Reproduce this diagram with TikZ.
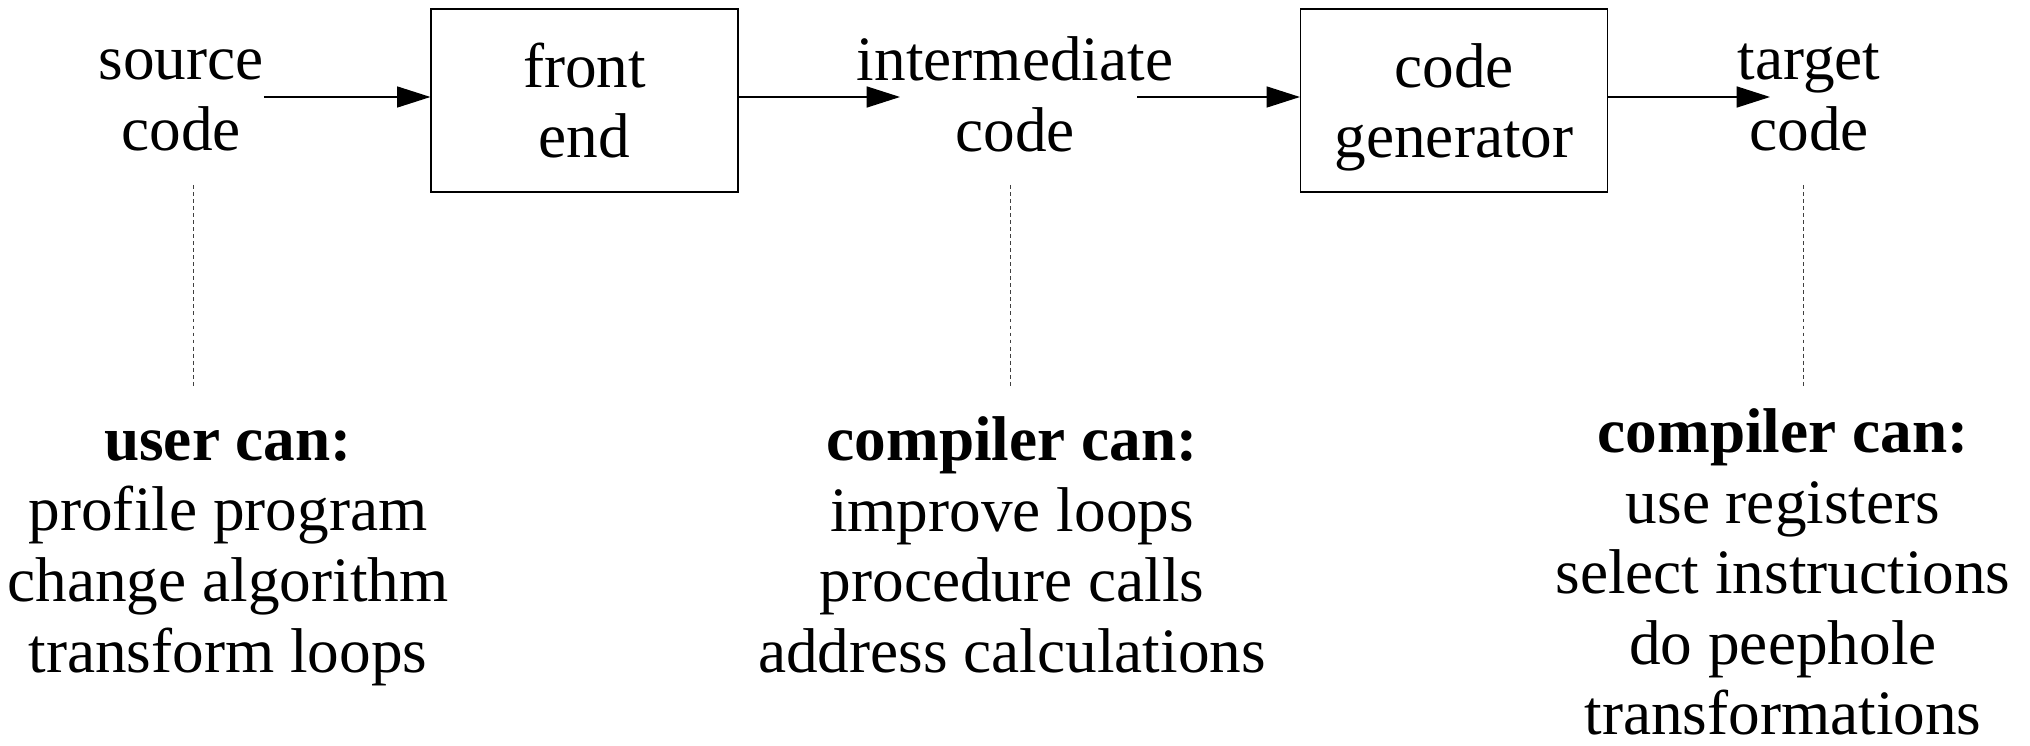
\documentclass[tikz,border=0pt]{standalone}
\usepackage{fontspec}
\setmainfont{Liberation Serif}
\usetikzlibrary{arrows.meta}

\begin{document}
\begin{tikzpicture}[x=0.02cm,y=-0.02cm,
        every node/.style={font=\fontsize{36}{40.2}\selectfont, align=center, inner sep=0pt},
        stagebox/.style={draw, line width=0.7pt, minimum width=6.14cm, minimum height=3.66cm},
        flow/.style={line width=0.7pt, -{Triangle[length=19pt,width=12pt]}},
        guide/.style={line width=0.4pt, black!75, dash pattern=on 2.2pt off 1.8pt}]
        \useasboundingbox (0,0) rectangle (2030,746);
        \node (src) at (181,100.5) {source\\code};
        \node[stagebox] (fe) at (584.5,100.5) {front\\end};
        \node (ic) at (1015,94.5) {intermediate\\code};
        \node[stagebox, text depth=0pt] (cg) at (1454,100.5) {code\\generator};
        \node (tc) at (1809,97.5) {target\\code};
        \coordinate (in2) at (900,97);
        \coordinate (out3) at (1137,97);
        \coordinate (in4) at (1770,97);
        \draw[flow] (src.east |- in2) -- (fe.west |- in2);
        \draw[flow] (fe.east |- in2) -- (in2);
        \draw[flow] (out3) -- (cg.west |- out3);
        \draw[flow] (cg.east |- in4) -- (in4);
        \foreach \x in {193,1010,1803} \draw[guide] (\x,185) -- (\x,388);
        \node (user) at (228,558) {\textbf{user can:}\\profile program\\change algorithm\\transform loops};
        \node (midc) at (1012,545) {\textbf{compiler can:}\\improve loops\\procedure calls\\address calculations};
        \node (backc) at (1783,572) {\textbf{compiler can:}\\use registers\\select instructions\\do peephole\\transformations};
    \end{tikzpicture}
\end{document}
